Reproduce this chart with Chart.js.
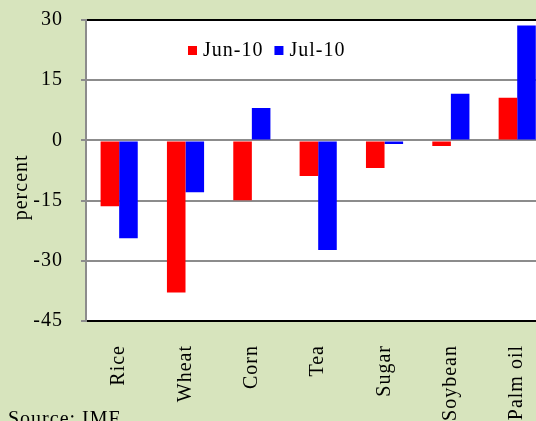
<!DOCTYPE html>
<html>
<head>
<meta charset="utf-8">
<script src="https://cdn.jsdelivr.net/npm/chart.js@4"></script>
<style>
  html, body {
    margin: 0;
    padding: 0;
    width: 536px;
    height: 421px;
    overflow: hidden;
    background: #d7e4bd;
  }
  #wrap {
    position: absolute;
    left: 0;
    top: -10px;
  }
  #source {
    position: absolute;
    left: 8px;
    top: 408px;
    font: 20px "Liberation Serif", "Times New Roman", serif;
    line-height: 20px;
    letter-spacing: 1px;
    color: #000;
    white-space: nowrap;
  }
</style>
</head>
<body>

<div id="wrap">
  <canvas id="chart" width="566" height="431"></canvas>
</div>
<div id="source">Source: IMF</div>

<script>

const categories = ["Rice", "Wheat", "Corn", "Tea", "Sugar", "Soybean", "Palm oil"];

const seriesNames = ["Jun-10", "Jul-10"];

const jun10 = [-16.4, -37.9, -14.9, -8.9, -6.9, -1.4, 10.6];

const jul10 = [-24.4, -12.9, 8.1, -27.3, -0.9, 11.6, 28.6];

const yTicks = [30, 15, 0, -15, -30, -45];

const yTitle = "percent";

const serif = '"Liberation Serif", "Times New Roman", serif';

// the text in the picture is a bit spread out
const spacing = {
  id: "spacing",
  beforeUpdate(chart) { chart.ctx.letterSpacing = "1px"; },
  beforeDraw(chart) { chart.ctx.letterSpacing = "1px"; }
};

// white plot area on the green page
const plotBg = {
  id: "plotBg",
  beforeDraw(chart) {
    const a = chart.chartArea;
    const ctx = chart.ctx;
    ctx.save();
    ctx.fillStyle = "#ffffff";
    ctx.fillRect(a.left, a.top, a.right - a.left, a.bottom - a.top);
    ctx.restore();
  }
};

// legend inside the plot near the top, and the axis title sitting a bit low
const extras = {
  id: "extras",
  afterDraw(chart) {
    const ctx = chart.ctx;
    const top = chart.chartArea.top;
    let x = chart.chartArea.left + 102;
    ctx.save();
    ctx.letterSpacing = "1px";
    ctx.font = "20px " + serif;
    ctx.textBaseline = "alphabetic";
    chart.data.datasets.forEach(ds => {
      ctx.fillStyle = ds.backgroundColor;
      ctx.fillRect(x, top + 26, 9, 9);
      x += 15;
      ctx.fillStyle = "#000";
      ctx.fillText(ds.label, x, top + 36);
      x += ctx.measureText(ds.label).width + 11;
    });

    ctx.translate(22, chart.scales.y.getPixelForValue(-11.7));
    ctx.rotate(-Math.PI / 2);
    ctx.textAlign = "center";
    ctx.textBaseline = "middle";
    ctx.fillText(yTitle, 0, 0);
    ctx.restore();
  }
};

new Chart(document.getElementById("chart"), {

  type: "bar",

  data: {
    labels: categories,
    datasets: [
      {
        label: seriesNames[0],
        data: jun10,
        backgroundColor: "#ff0000"
      },
      {
        label: seriesNames[1],
        data: jul10,
        backgroundColor: "#0000ff"
      }
    ]
  },

  options: {
    responsive: false,
    animation: false,
    devicePixelRatio: 1,
    layout: {
      padding: { top: 10, right: 11, left: 0, bottom: 0 }
    },
    datasets: {
      bar: {
        categoryPercentage: 0.56,
        barPercentage: 1
      }
    },
    plugins: {
      legend: { display: false },
      tooltip: { enabled: false }
    },
    scales: {
      x: {
        afterFit(scale) { scale.height = 100; },
        grid: { display: false, drawTicks: false },
        border: { display: true, color: "#000", width: 2 },
        ticks: {
          minRotation: 90,
          maxRotation: 90,
          padding: 24,
          color: "#000",
          font: { family: serif, size: 20 }
        }
      },
      y: {
        min: -45,
        max: 30,
        afterFit(scale) { scale.width = 86; },
        afterBuildTicks(scale) {
          scale.ticks = yTicks.map(v => ({ value: v }));
        },
        grid: {
          color: c => (c.tick && (c.tick.value === 30 || c.tick.value === -45)) ? "#000" : "#8c8c8c",
          lineWidth: 2,
          tickLength: 5,
          tickColor: "#8c8c8c"
        },
        border: { color: "#8c8c8c", width: 2 },
        ticks: {
          padding: 18,
          color: "#000",
          font: { family: serif, size: 20 }
        }
      }
    }
  },

  plugins: [spacing, plotBg, extras]

});

</script>
</body>
</html>
